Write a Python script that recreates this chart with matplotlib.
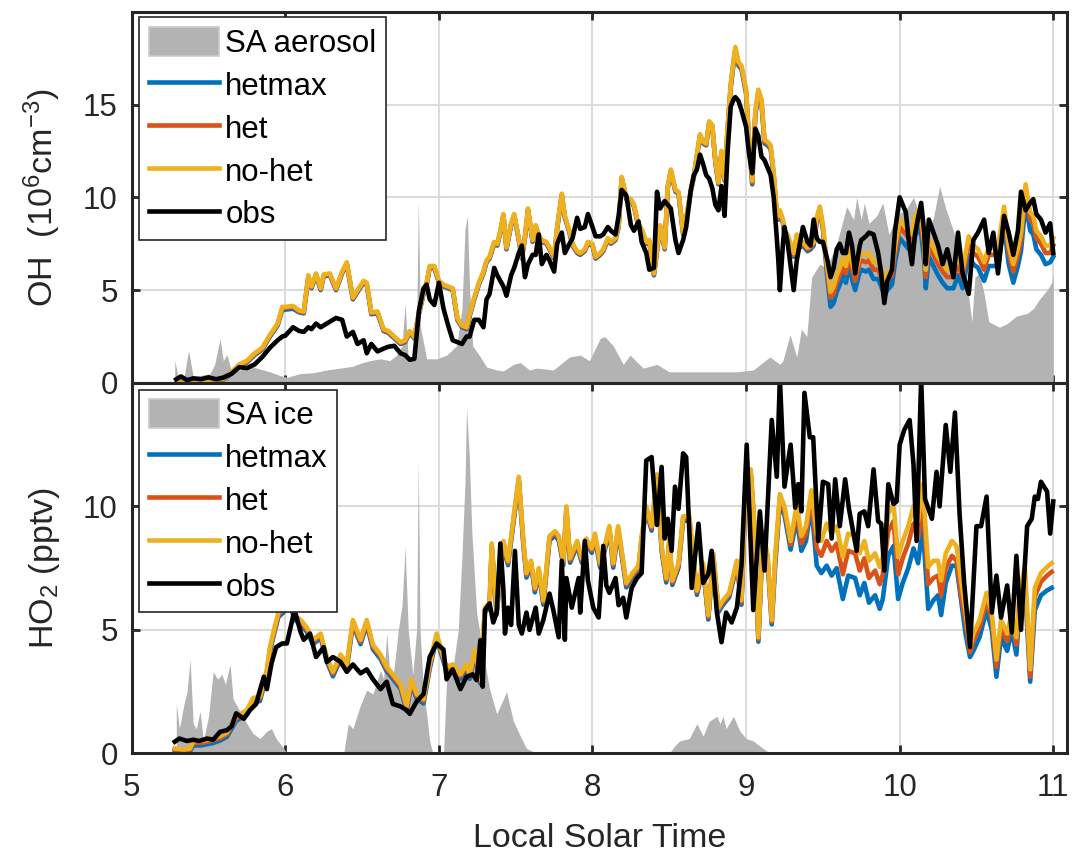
import matplotlib
matplotlib.use('Agg')
import matplotlib.pyplot as plt
from matplotlib.patches import Patch
from matplotlib.lines import Line2D

plt.rcParams['font.family'] = ['Liberation Sans', 'DejaVu Sans']
plt.rcParams['mathtext.default'] = 'regular'

# ---------------- OH panel (top) ----------------
oh_t = [5.29, 5.32, 5.36, 5.40, 5.45, 5.50, 5.55, 5.60, 5.65, 5.70,
        5.75, 5.80, 5.85, 5.90, 5.95, 5.98, 6.00, 6.05, 6.09, 6.12,
        6.15, 6.17, 6.20, 6.23, 6.25, 6.29, 6.33, 6.37, 6.40, 6.44,
        6.47, 6.51, 6.53, 6.56, 6.60, 6.64, 6.67, 6.71, 6.75, 6.78,
        6.81, 6.84, 6.87, 6.90, 6.92, 6.94, 6.97, 7.00, 7.03, 7.06,
        7.09, 7.12, 7.15, 7.18, 7.20, 7.23, 7.26, 7.29, 7.31, 7.33,
        7.36, 7.38, 7.40, 7.42, 7.44, 7.47, 7.49, 7.52, 7.54, 7.56,
        7.58, 7.61, 7.63, 7.65, 7.67, 7.70, 7.72, 7.75, 7.77, 7.80,
        7.82, 7.85, 7.87, 7.90, 7.92, 7.95, 7.97, 8.00, 8.02, 8.05,
        8.07, 8.10, 8.12, 8.15, 8.17, 8.19, 8.22, 8.25, 8.27, 8.30,
        8.32, 8.35, 8.37, 8.40, 8.42, 8.44, 8.47, 8.49, 8.51, 8.54,
        8.56, 8.59, 8.61, 8.64, 8.66, 8.68, 8.70, 8.72, 8.74, 8.76,
        8.78, 8.80, 8.82, 8.84, 8.86, 8.88, 8.90, 8.92, 8.93, 8.95,
        8.97, 9.00, 9.02, 9.04, 9.06, 9.08, 9.10, 9.12, 9.14, 9.16,
        9.18, 9.20, 9.21, 9.22, 9.24, 9.25, 9.27, 9.29, 9.31, 9.33,
        9.35, 9.37, 9.40, 9.42, 9.44, 9.46, 9.48, 9.50, 9.53, 9.55,
        9.57, 9.59, 9.61, 9.63, 9.65, 9.67, 9.69, 9.71, 9.74, 9.75,
        9.78, 9.80, 9.83, 9.86, 9.88, 9.90, 9.92, 9.95, 9.97, 10.00,
        10.02, 10.04, 10.06, 10.08, 10.10, 10.12, 10.14, 10.16, 10.17, 10.19,
        10.22, 10.25, 10.28, 10.31, 10.35, 10.38, 10.41, 10.45, 10.48, 10.51,
        10.55, 10.58, 10.61, 10.64, 10.68, 10.71, 10.74, 10.77, 10.79, 10.82,
        10.85, 10.87, 10.89, 10.92, 10.95, 10.98, 11.00]

oh_nohet = [0.15, 0.2, 0.1, 0.15, 0.15, 0.15, 0.2, 0.25, 0.6, 1.0,
            1.2, 1.6, 1.9, 2.6, 3.2, 4.1, 4.1, 4.15, 3.9, 3.85,
            5.8, 5.2, 5.9, 5.1, 5.85, 5.9, 5.1, 6.0, 6.5, 4.6,
            5.0, 5.5, 5.4, 3.8, 3.85, 2.9, 2.8, 2.5, 2.2, 2.3,
            2.8, 2.5, 3.8, 4.9, 5.4, 6.3, 6.3, 5.5, 5.3, 5.2,
            5.1, 3.5, 3.1, 3.0, 3.7, 4.6, 5.4, 6.0, 6.6, 6.8,
            7.6, 7.5, 8.2, 9.1, 7.3, 8.6, 9.1, 7.8, 6.8, 7.9,
            9.4, 7.7, 8.5, 8.0, 7.7, 7.6, 7.3, 6.8, 8.4, 10.2,
            9.0, 8.2, 7.5, 7.1, 7.0, 7.2, 7.6, 7.5, 6.8, 7.0,
            7.2, 7.8, 7.6, 7.8, 8.5, 11.1, 10.0, 9.9, 9.6, 8.5,
            8.3, 7.6, 7.7, 5.9, 7.2, 8.5, 7.3, 10.6, 11.5, 10.4,
            10.3, 8.1, 8.9, 10.4, 11.2, 12.3, 13.4, 13.0, 12.9, 14.1,
            13.9, 12.0, 10.8, 12.5, 11.0, 13.8, 16.1, 17.5, 18.1, 17.3,
            17.1, 15.8, 13.0, 10.9, 14.6, 15.8, 15.3, 13.1, 13.0, 12.8,
            11.3, 9.2, 9.0, 9.3, 8.8, 8.2, 8.0, 7.5, 7.0, 8.0,
            7.5, 7.6, 7.3, 7.4, 7.6, 8.9, 9.5, 8.5, 6.2, 4.9,
            5.2, 5.8, 6.2, 6.7, 6.3, 7.3, 6.5, 5.9, 6.9, 7.0,
            6.9, 7.0, 6.5, 6.5, 6.1, 5.6, 5.9, 6.2, 7.4, 8.8,
            8.6, 8.4, 8.2, 8.0, 8.9, 9.3, 9.0, 7.6, 6.1, 7.8,
            7.3, 6.8, 6.4, 6.1, 6.1, 6.8, 6.1, 7.9, 7.4, 7.2,
            6.5, 7.3, 7.3, 7.3, 9.5, 7.4, 6.4, 7.3, 8.1, 10.7,
            9.2, 9.0, 8.2, 7.9, 7.4, 7.4, 7.8]

oh_het = [0.12, 0.17, 0.08, 0.12, 0.12, 0.12, 0.17, 0.22, 0.55, 0.95,
          1.15, 1.55, 1.85, 2.55, 3.15, 4.05, 4.05, 4.1, 3.85, 3.8,
          5.75, 5.15, 5.85, 5.05, 5.8, 5.85, 5.05, 5.95, 6.45, 4.55,
          4.95, 5.45, 5.35, 3.75, 3.8, 2.85, 2.75, 2.45, 2.15, 2.25,
          2.75, 2.45, 3.75, 4.85, 5.35, 6.25, 6.25, 5.45, 5.25, 5.15,
          5.05, 3.45, 3.05, 2.95, 3.65, 4.55, 5.35, 5.95, 6.55, 6.75,
          7.55, 7.45, 8.15, 9.05, 7.25, 8.55, 9.05, 7.75, 6.75, 7.85,
          9.35, 7.65, 8.45, 7.95, 7.65, 7.55, 7.25, 6.75, 8.35, 10.15,
          8.95, 8.15, 7.45, 7.05, 6.95, 7.15, 7.55, 7.45, 6.75, 6.95,
          7.15, 7.75, 7.55, 7.75, 8.45, 11.05, 9.95, 9.85, 9.55, 8.45,
          8.25, 7.55, 7.65, 5.85, 7.15, 8.45, 7.25, 10.55, 11.45, 10.35,
          10.25, 8.05, 8.85, 10.35, 11.15, 12.25, 13.35, 12.95, 12.85, 14.05,
          13.85, 11.95, 10.75, 12.45, 10.95, 13.75, 16.0, 17.4, 17.95, 17.2,
          17.0, 15.7, 12.9, 10.8, 14.5, 15.7, 15.2, 13.0, 12.9, 12.7,
          11.2, 9.1, 8.9, 9.2, 8.7, 8.1, 7.9, 7.4, 6.9, 7.9,
          7.4, 7.5, 7.2, 7.3, 7.5, 8.8, 9.4, 8.4, 5.9, 4.6,
          4.8, 5.4, 5.8, 6.3, 5.9, 6.9, 6.1, 5.5, 6.5, 6.6,
          6.5, 6.6, 6.1, 6.1, 5.7, 5.2, 5.5, 5.8, 7.0, 8.4,
          8.2, 8.0, 7.8, 7.6, 8.5, 8.9, 8.6, 7.2, 5.7, 7.4,
          6.9, 6.4, 6.0, 5.7, 5.7, 6.4, 5.7, 7.5, 7.0, 6.8,
          6.1, 6.9, 6.9, 6.9, 9.1, 7.0, 6.0, 6.9, 7.7, 10.3,
          8.8, 8.6, 7.8, 7.5, 7.0, 7.0, 7.4]

oh_hetmax = [0.1, 0.15, 0.05, 0.1, 0.1, 0.1, 0.15, 0.2, 0.5, 0.9,
             1.1, 1.5, 1.8, 2.5, 3.1, 3.95, 3.95, 4.0, 3.8, 3.75,
             5.7, 5.1, 5.8, 5.0, 5.75, 5.8, 5.0, 5.9, 6.4, 4.5,
             4.9, 5.4, 5.3, 3.7, 3.75, 2.8, 2.7, 2.4, 2.1, 2.2,
             2.7, 2.4, 3.7, 4.8, 5.3, 6.2, 6.2, 5.4, 5.2, 5.1,
             5.0, 3.4, 3.0, 2.9, 3.6, 4.5, 5.3, 5.9, 6.5, 6.7,
             7.5, 7.4, 8.1, 9.0, 7.2, 8.5, 9.0, 7.7, 6.7, 7.8,
             9.3, 7.6, 8.4, 7.9, 7.6, 7.5, 7.2, 6.7, 8.3, 10.1,
             8.9, 8.1, 7.4, 7.0, 6.9, 7.1, 7.5, 7.4, 6.7, 6.9,
             7.1, 7.7, 7.5, 7.7, 8.4, 11.0, 9.9, 9.8, 9.5, 8.4,
             8.2, 7.5, 7.6, 5.8, 7.1, 8.4, 7.2, 10.5, 11.4, 10.3,
             10.2, 8.0, 8.8, 10.3, 11.1, 12.2, 13.3, 12.9, 12.8, 14.0,
             13.8, 11.9, 10.7, 12.4, 10.9, 13.7, 15.9, 17.3, 17.9, 17.1,
             16.9, 15.6, 12.8, 10.7, 14.4, 15.6, 15.1, 12.9, 12.8, 12.6,
             11.1, 9.0, 8.8, 9.1, 8.6, 8.0, 7.8, 7.3, 6.8, 7.8,
             7.3, 7.4, 7.1, 7.2, 7.4, 8.7, 9.3, 8.3, 5.6, 4.1,
             4.3, 4.9, 5.3, 5.8, 5.4, 6.4, 5.6, 5.0, 6.0, 6.1,
             6.0, 6.1, 5.6, 5.6, 5.2, 4.7, 5.0, 5.3, 6.5, 7.8,
             7.6, 7.4, 7.2, 7.0, 7.9, 8.3, 8.0, 6.6, 5.1, 6.8,
             6.3, 5.8, 5.4, 5.1, 5.1, 5.8, 5.1, 6.9, 6.4, 6.2,
             5.5, 6.3, 6.3, 6.3, 8.5, 6.4, 5.4, 6.3, 7.1, 9.7,
             8.2, 8.0, 7.2, 6.9, 6.4, 6.5, 6.8]

oh_obs = [0.2, 0.35, 0.15, 0.25, 0.2, 0.3, 0.2, 0.3, 0.5, 0.85,
          0.8, 1.0, 1.4, 1.9, 2.3, 2.5, 2.55, 3.0, 2.8, 2.75,
          3.0, 2.9, 3.2, 3.0, 3.1, 3.3, 3.5, 3.4, 2.5, 2.75,
          2.1, 2.3, 1.6, 2.1, 1.7, 1.85, 1.95, 2.0, 1.6, 1.5,
          1.25, 1.3, 3.9, 5.1, 5.3, 4.5, 4.2, 5.4, 4.0, 3.1,
          2.3, 2.2, 2.1, 2.5, 2.5, 3.4, 3.4, 3.0, 4.5, 4.8,
          6.2, 5.8, 5.5, 5.2, 4.7, 5.8, 6.2, 7.0, 7.4, 5.7,
          6.4, 6.9, 6.9, 8.0, 6.4, 6.9, 6.6, 6.0, 7.5, 8.1,
          7.0, 7.5, 7.8, 8.9, 8.3, 8.4, 9.1, 8.4, 7.9, 7.9,
          8.0, 8.4, 8.2, 8.0, 9.0, 10.4, 10.1, 8.5, 8.2, 8.7,
          7.6, 7.0, 6.1, 6.2, 10.3, 9.4, 9.8, 9.6, 9.4, 7.7,
          7.0, 7.7, 8.4, 10.4, 11.2, 11.5, 12.3, 11.8, 11.2, 11.0,
          10.5, 9.6, 9.3, 10.6, 9.0, 12.5, 14.9, 15.3, 15.4, 15.2,
          14.7, 13.8, 12.3, 11.3, 13.7, 13.3, 12.2, 12.0, 11.6, 11.2,
          10.0, 7.8, 6.6, 5.0, 7.5, 8.4, 7.6, 6.3, 5.0, 6.6,
          7.5, 8.4, 7.6, 7.4, 8.8, 7.8, 7.6, 7.6, 6.6, 5.7,
          6.2, 7.2, 7.5, 7.0, 7.0, 8.1, 7.4, 5.9, 7.4, 7.7,
          7.9, 8.1, 8.0, 7.0, 5.9, 4.3, 5.5, 6.1, 8.2, 10.0,
          9.6, 9.2, 7.6, 6.4, 8.0, 8.9, 9.7, 8.1, 6.4, 8.8,
          8.1, 7.4, 6.4, 7.2, 5.7, 8.1, 5.9, 4.8, 7.7, 8.1,
          8.8, 7.0, 8.1, 5.9, 9.0, 8.1, 6.9, 8.2, 10.3, 9.3,
          9.7, 9.9, 9.1, 8.8, 8.1, 8.6, 7.0]

sa_aer_t = [5.28, 5.30, 5.34, 5.37, 5.40, 5.445, 5.51, 5.54, 5.575, 5.596,
            5.62, 5.65, 5.705, 5.77, 5.835, 5.90, 5.966, 6.01, 6.096, 6.18,
            6.27, 6.356, 6.44, 6.486, 6.55, 6.62, 6.68, 6.725, 6.76, 6.78,
            6.80, 6.83, 6.855, 6.866, 6.88, 6.92, 6.985, 7.05, 7.115, 7.15,
            7.17, 7.185, 7.20, 7.22, 7.27, 7.31, 7.376, 7.42, 7.485, 7.53,
            7.59, 7.637, 7.745, 7.85, 7.92, 7.98, 8.05, 8.08, 8.135, 8.20,
            8.245, 8.33, 8.42, 8.50, 8.72, 8.94, 9.047, 9.155, 9.22, 9.24,
            9.286, 9.33, 9.36, 9.395, 9.427, 9.48, 9.525, 9.59, 9.655, 9.70,
            9.72, 9.75, 9.77, 9.80, 9.85, 9.89, 9.93, 9.98, 10.045, 10.09,
            10.13, 10.176, 10.22, 10.26, 10.30, 10.35, 10.39, 10.43, 10.47, 10.49,
            10.52, 10.55, 10.58, 10.65, 10.70, 10.76, 10.83, 10.87, 10.91, 10.96,
            10.99, 11.0]
sa_aer = [1.22, 0.4, 0.3, 1.76, 0.35, 0.4, 0.5, 1.0, 2.39, 1.2,
          1.53, 0.6, 0.7, 0.9, 0.75, 0.6, 0.4, 0.3, 0.5, 0.55,
          0.7, 0.8, 0.9, 1.05, 1.2, 1.3, 1.2, 1.5, 2.0, 4.3,
          1.3, 1.4, 3.0, 9.8, 3.0, 1.3, 1.3, 1.5, 2.0, 4.0,
          8.3, 9.0, 5.0, 2.0, 1.4, 0.86, 0.7, 0.65, 1.0, 1.1,
          0.7, 0.8, 0.7, 1.4, 1.5, 1.2, 2.4, 2.5, 2.0, 1.0,
          1.5, 0.8, 1.0, 0.6, 0.6, 0.6, 0.7, 1.4, 1.0, 1.2,
          2.6, 1.4, 2.9, 2.5, 5.7, 6.4, 6.2, 7.5, 9.5, 8.8,
          10.0, 8.8, 9.7, 8.6, 9.0, 9.7, 8.0, 9.0, 9.4, 10.0,
          9.0, 8.0, 8.9, 10.6, 9.4, 8.2, 6.8, 5.9, 3.3, 5.7,
          5.9, 4.8, 3.3, 3.0, 3.2, 3.6, 3.75, 4.0, 4.5, 5.0,
          5.4, 5.8]

# ---------------- HO2 panel (bottom) ----------------
ho2_t = [5.28, 5.34, 5.38, 5.40, 5.45, 5.49, 5.53, 5.575, 5.62, 5.68,
         5.75, 5.79, 5.835, 5.88, 5.90, 5.93, 5.955, 5.99, 6.03, 6.06,
         6.10, 6.14, 6.18, 6.23, 6.27, 6.31, 6.36, 6.40, 6.44, 6.49,
         6.53, 6.57, 6.62, 6.66, 6.70, 6.75, 6.79, 6.82, 6.855, 6.90,
         6.94, 6.985, 7.01, 7.05, 7.09, 7.14, 7.18, 7.20, 7.235, 7.27,
         7.30, 7.33, 7.344, 7.376, 7.42, 7.45, 7.485, 7.52, 7.55, 7.57,
         7.60, 7.625, 7.65, 7.68, 7.72, 7.756, 7.78, 7.81, 7.83, 7.854,
         7.90, 7.93, 7.96, 7.995, 8.016, 8.05, 8.08, 8.11, 8.135, 8.167,
         8.22, 8.26, 8.30, 8.32, 8.35, 8.385, 8.42, 8.45, 8.48, 8.50,
         8.52, 8.56, 8.59, 8.63, 8.68, 8.72, 8.754, 8.786, 8.82, 8.85,
         8.89, 8.94, 8.97, 9.00, 9.03, 9.05, 9.08, 9.11, 9.14, 9.167,
         9.19, 9.22, 9.25, 9.29, 9.33, 9.36, 9.39, 9.425, 9.46, 9.49,
         9.525, 9.557, 9.59, 9.63, 9.665, 9.71, 9.74, 9.77, 9.80, 9.84,
         9.87, 9.89, 9.926, 9.96, 9.99, 10.02, 10.056, 10.09, 10.12, 10.15,
         10.186, 10.22, 10.25, 10.27, 10.30, 10.34, 10.37, 10.40, 10.43, 10.458,
         10.48, 10.52, 10.566, 10.60, 10.63, 10.66, 10.70, 10.73, 10.76, 10.78,
         10.815, 10.85, 10.88, 10.92, 10.96, 10.99]

ho2_nohet = [0.2, 0.15, 0.2, 0.5, 0.5, 0.55, 0.6, 0.7, 0.85, 1.5,
             1.75, 2.24, 2.3, 3.4, 4.3, 5.1, 5.7, 5.9, 6.2, 5.6,
             5.4, 5.1, 4.6, 4.85, 3.9, 3.3, 4.0, 3.6, 5.4, 4.6,
             5.4, 4.4, 4.0, 3.5, 3.2, 2.8, 1.9, 3.0, 2.4, 2.2,
             3.6, 4.85, 4.3, 3.5, 3.6, 3.2, 3.6, 3.2, 4.2, 3.0,
             5.9, 6.1, 8.5, 5.8, 8.6, 7.8, 9.5, 11.2, 8.6, 7.3,
             7.8, 6.7, 7.5, 6.2, 8.8, 9.0, 8.8, 7.8, 10.0, 7.9,
             8.6, 7.9, 8.7, 8.3, 8.9, 7.7, 8.4, 9.2, 7.7, 9.2,
             6.9, 7.3, 7.6, 8.8, 10.0, 9.2, 11.3, 8.4, 7.1, 8.7,
             7.0, 7.7, 9.6, 9.6, 6.6, 7.7, 5.6, 8.1, 5.9, 6.2,
             6.5, 7.8, 6.2, 11.4, 11.5, 9.7, 4.7, 9.0, 8.0, 5.4,
             8.0, 10.5, 10.0, 8.6, 10.1, 8.8, 9.2, 10.65, 8.9, 8.6,
             9.3, 8.9, 9.2, 7.95, 8.9, 8.8, 8.1, 8.6, 7.8, 8.1,
             7.55, 7.95, 9.7, 10.1, 7.95, 8.6, 9.2, 10.0, 9.4, 10.9,
             7.55, 7.8, 7.8, 7.0, 8.1, 8.6, 8.4, 7.0, 5.7, 4.3,
             4.85, 5.4, 6.5, 5.7, 3.8, 5.4, 4.85, 5.7, 4.7, 6.5,
             7.55, 3.4, 6.7, 7.3, 7.55, 7.7]

ho2_het = [0.15, 0.1, 0.15, 0.42, 0.42, 0.47, 0.52, 0.62, 0.77, 1.42,
           1.67, 2.16, 2.22, 3.32, 4.22, 5.02, 5.62, 5.82, 6.12, 5.52,
           5.32, 5.02, 4.52, 4.77, 3.82, 3.22, 3.92, 3.52, 5.32, 4.52,
           5.32, 4.32, 3.92, 3.42, 3.12, 2.72, 1.82, 2.92, 2.32, 2.12,
           3.52, 4.77, 4.22, 3.42, 3.52, 3.12, 3.52, 3.12, 4.12, 2.92,
           5.82, 6.02, 8.42, 5.72, 8.52, 7.72, 9.42, 11.12, 8.52, 7.22,
           7.72, 6.62, 7.42, 6.12, 8.72, 8.92, 8.72, 7.72, 9.92, 7.82,
           8.52, 7.82, 8.62, 8.22, 8.82, 7.62, 8.32, 9.12, 7.62, 9.12,
           6.82, 7.22, 7.52, 8.72, 9.92, 9.12, 11.22, 8.32, 7.02, 8.62,
           6.92, 7.62, 9.52, 9.52, 6.52, 7.62, 5.52, 8.02, 5.82, 6.12,
           6.42, 7.72, 6.12, 11.32, 11.42, 9.62, 4.62, 8.92, 7.92, 5.32,
           7.85, 10.35, 9.85, 8.45, 9.8, 8.5, 8.9, 10.35, 8.3, 8.0,
           8.6, 8.2, 8.5, 7.25, 8.2, 8.1, 7.4, 7.9, 7.1, 7.4,
           6.85, 7.25, 9.0, 9.4, 7.25, 7.9, 8.5, 9.3, 8.7, 10.2,
           6.85, 7.1, 7.2, 6.4, 7.5, 8.0, 7.8, 6.4, 5.3, 4.1,
           4.55, 5.1, 6.2, 5.4, 3.5, 5.1, 4.55, 5.4, 4.4, 6.2,
           7.25, 3.1, 6.35, 6.95, 7.2, 7.35]

ho2_hetmax = [0.1, 0.05, 0.1, 0.32, 0.32, 0.37, 0.42, 0.52, 0.67, 1.32,
              1.57, 2.06, 2.12, 3.22, 4.12, 4.92, 5.52, 5.72, 6.02, 5.42,
              5.22, 4.92, 4.42, 4.67, 3.72, 3.12, 3.82, 3.42, 5.22, 4.42,
              5.22, 4.22, 3.82, 3.32, 3.02, 2.62, 1.72, 2.82, 2.22, 2.02,
              3.42, 4.67, 4.12, 3.32, 3.42, 3.02, 3.42, 3.02, 4.02, 2.82,
              5.72, 5.92, 8.32, 5.62, 8.42, 7.62, 9.32, 11.02, 8.42, 7.12,
              7.62, 6.52, 7.32, 6.02, 8.62, 8.82, 8.62, 7.62, 9.82, 7.72,
              8.42, 7.72, 8.52, 8.12, 8.72, 7.52, 8.22, 9.02, 7.52, 9.02,
              6.72, 7.12, 7.42, 8.62, 9.82, 9.02, 11.12, 8.22, 6.92, 8.52,
              6.82, 7.52, 9.42, 9.42, 6.42, 7.52, 5.42, 7.92, 5.72, 6.02,
              6.32, 7.62, 6.02, 11.22, 11.32, 9.52, 4.52, 8.82, 7.82, 5.22,
              7.65, 10.15, 9.65, 8.25, 9.5, 8.2, 8.6, 10.05, 7.6, 7.3,
              7.6, 7.2, 7.5, 6.25, 7.2, 7.1, 6.4, 6.9, 6.1, 6.4,
              5.85, 6.25, 8.0, 8.4, 6.25, 6.9, 7.5, 8.3, 7.7, 9.2,
              5.85, 6.2, 6.4, 5.6, 6.9, 7.6, 7.6, 6.2, 4.8, 3.9,
              4.15, 4.7, 5.8, 5.0, 3.1, 4.7, 4.15, 5.0, 4.0, 5.8,
              6.85, 2.9, 5.8, 6.4, 6.6, 6.7]

ho2_obs_t = [5.28, 5.31, 5.36, 5.40, 5.44, 5.49, 5.53, 5.575, 5.62, 5.65,
             5.68, 5.73, 5.77, 5.81, 5.835, 5.86, 5.88, 5.91, 5.94, 5.98,
             6.01, 6.04, 6.06, 6.10, 6.12, 6.16, 6.20, 6.25, 6.27, 6.31,
             6.36, 6.40, 6.44, 6.49, 6.53, 6.57, 6.62, 6.66, 6.70, 6.75,
             6.79, 6.81, 6.855, 6.90, 6.94, 6.985, 7.03, 7.05, 7.09, 7.14,
             7.18, 7.22, 7.246, 7.27, 7.285, 7.30, 7.33, 7.354, 7.376, 7.40,
             7.42, 7.43, 7.45, 7.47, 7.495, 7.52, 7.54, 7.57, 7.59, 7.63,
             7.65, 7.68, 7.72, 7.745, 7.78, 7.80, 7.82, 7.83, 7.865, 7.91,
             7.92, 7.95, 7.97, 8.005, 8.04, 8.07, 8.09, 8.11, 8.15, 8.17,
             8.20, 8.22, 8.255, 8.29, 8.32, 8.35, 8.385, 8.42, 8.45, 8.47,
             8.49, 8.515, 8.537, 8.56, 8.59, 8.61, 8.646, 8.69, 8.72, 8.754,
             8.776, 8.81, 8.84, 8.87, 8.906, 8.94, 8.97, 9.004, 9.047, 9.09,
             9.12, 9.167, 9.20, 9.22, 9.25, 9.29, 9.32, 9.34, 9.36, 9.38,
             9.415, 9.437, 9.47, 9.50, 9.535, 9.557, 9.58, 9.61, 9.645, 9.67,
             9.72, 9.74, 9.77, 9.795, 9.83, 9.86, 9.88, 9.90, 9.926, 9.96,
             9.98, 10.00, 10.03, 10.065, 10.09, 10.11, 10.14, 10.165, 10.21, 10.24,
             10.26, 10.30, 10.33, 10.36, 10.39, 10.42, 10.458, 10.50, 10.53, 10.566,
             10.60, 10.63, 10.66, 10.70, 10.73, 10.76, 10.79, 10.83, 10.86, 10.88,
             10.90, 10.92, 10.96, 10.98, 11.00]
ho2_obs = [0.47, 0.6, 0.5, 0.55, 0.5, 0.6, 0.55, 0.87, 0.94, 1.1,
           1.62, 1.4, 1.75, 2.0, 2.56, 3.1, 2.6, 3.64, 4.3, 4.45,
           4.45, 5.26, 5.8, 4.9, 4.6, 4.85, 3.9, 4.3, 3.7, 3.9,
           3.7, 3.3, 3.6, 3.24, 3.4, 3.0, 2.6, 2.9, 2.0, 1.9,
           1.75, 1.6, 2.1, 2.4, 3.9, 4.45, 4.2, 3.0, 3.4, 2.6,
           3.1, 3.2, 2.96, 4.58, 2.7, 5.8, 6.07, 5.3, 5.7, 8.5,
           6.6, 4.85, 5.9, 5.2, 8.2, 5.2, 4.85, 5.7, 5.0, 5.9,
           4.85, 5.4, 6.47, 5.8, 4.7, 7.8, 4.6, 7.1, 5.9, 7.1,
           5.7, 8.6, 7.0, 5.9, 5.5, 8.4, 6.8, 6.5, 7.1, 6.0,
           6.3, 5.5, 6.7, 7.1, 7.3, 11.86, 12.0, 9.25, 11.6, 8.7,
           9.5, 8.2, 10.8, 9.9, 12.15, 12.0, 6.7, 9.3, 6.9, 7.26,
           8.2, 5.7, 4.5, 5.7, 5.3, 5.9, 7.6, 12.5, 5.8, 9.8,
           7.4, 13.5, 11.2, 15.2, 10.8, 12.5, 9.95, 10.9, 9.8, 14.6,
           12.8, 12.8, 8.6, 11.0, 10.9, 8.7, 11.1, 9.2, 11.1, 9.9,
           8.2, 9.7, 9.8, 9.2, 11.5, 9.4, 9.3, 7.4, 10.9, 10.1,
           10.2, 12.5, 13.1, 13.5, 11.7, 8.6, 15.2, 10.3, 9.5, 11.4,
           10.0, 13.3, 11.4, 13.8, 9.7, 6.9, 4.3, 9.2, 9.2, 10.4,
           5.7, 7.2, 5.5, 6.8, 4.9, 8.0, 5.0, 9.2, 9.5, 10.4,
           10.3, 11.0, 10.6, 8.9, 10.2]

sa_ice_t = [5.29, 5.31, 5.34, 5.36, 5.38, 5.40, 5.42, 5.445, 5.466, 5.50,
            5.53, 5.56, 5.586, 5.61, 5.64, 5.66, 5.705, 5.75, 5.79, 5.835,
            5.88, 5.91, 5.94, 5.99, 6.01, 6.38, 6.41, 6.44, 6.486, 6.53,
            6.57, 6.62, 6.64, 6.66, 6.68, 6.70, 6.736, 6.76, 6.78, 6.80,
            6.83, 6.855, 6.866, 6.877, 6.90, 6.92, 6.94, 6.96, 7.03, 7.05,
            7.09, 7.126, 7.15, 7.17, 7.18, 7.198, 7.214, 7.246, 7.29, 7.33,
            7.376, 7.42, 7.44, 7.485, 7.53, 7.57, 7.637, 8.50, 8.535, 8.567,
            8.63, 8.68, 8.72, 8.76, 8.81, 8.83, 8.85, 8.87, 8.917, 8.96,
            9.00, 9.047, 9.11, 9.155, 11.0]
sa_ice = [2.0, 1.0, 2.0, 2.5, 3.8, 1.2, 1.0, 1.7, 0.5, 1.5,
          3.3, 3.0, 3.2, 2.8, 3.6, 2.2, 1.7, 1.2, 0.8, 0.6,
          0.9, 1.0, 0.6, 0.2, 0.0, 0.0, 1.2, 1.0, 1.9, 2.56,
          2.4, 3.37, 3.0, 4.86, 3.3, 3.0, 5.0, 6.0, 8.36, 5.0,
          3.2, 5.0, 11.86, 5.0, 2.5, 1.6, 0.5, 0.0, 0.0, 3.0,
          3.4, 5.0, 8.0, 11.0, 14.0, 12.0, 9.0, 5.66, 4.0, 2.6,
          1.6, 2.2, 2.5, 1.3, 0.7, 0.2, 0.0, 0.0, 0.3, 0.5,
          0.6, 1.2, 0.7, 1.3, 1.5, 1.2, 1.5, 1.0, 1.5, 0.9,
          0.6, 0.5, 0.2, 0.0, 0.0]

c_hetmax = '#0072BD'
c_het = '#D95319'
c_nohet = '#EDB120'
c_fill = '#b3b3b3'
fs = 22.5
lw = 3.3

fig = plt.figure(figsize=(10.72, 8.55), dpi=100)
ax1 = fig.add_axes([0.1229, 0.5521, 0.8725, 0.4342])
ax2 = fig.add_axes([0.1229, 0.1189, 0.8725, 0.4332])


def style(ax):
    ax.set_xlim(5, 11.09)
    ax.set_xticks([5, 6, 7, 8, 9, 10, 11])
    ax.grid(True, color='#dcdcdc', lw=1.5)
    ax.set_axisbelow(True)
    ax.tick_params(direction='in', length=6, width=2.0, top=True, right=True,
                   labelsize=fs, colors='#262626')
    ax.tick_params(axis='y', pad=10)
    ax.tick_params(axis='x', pad=14)
    for s in ax.spines.values():
        s.set_linewidth(2.2)
        s.set_color('#262626')


def legend(ax, first, y):
    handles = [Patch(facecolor=c_fill, edgecolor='#cccccc', lw=1.2),
               Line2D([], [], color=c_hetmax, lw=lw),
               Line2D([], [], color=c_het, lw=lw),
               Line2D([], [], color=c_nohet, lw=lw),
               Line2D([], [], color='black', lw=lw)]
    lab = [first, 'hetmax', 'het', 'no-het', 'obs']
    lg = ax.legend(handles, lab, loc='upper left', bbox_to_anchor=(0.0081, y),
                   borderaxespad=0, fontsize=fs, frameon=True, fancybox=False,
                   framealpha=1, edgecolor='#262626', handlelength=2.25,
                   handleheight=1.06, handletextpad=0.2, labelspacing=0.34,
                   borderpad=0.3)
    lg.get_frame().set_linewidth(1.2)
    lg.set_zorder(10)


# top panel
style(ax1)
ax1.fill_between(sa_aer_t, 0, sa_aer, color=c_fill, lw=0)
ax1.plot(oh_t, oh_hetmax, color=c_hetmax, lw=lw)
ax1.plot(oh_t, oh_het, color=c_het, lw=lw)
ax1.plot(oh_t, oh_nohet, color=c_nohet, lw=lw)
ax1.plot(oh_t, oh_obs, color='black', lw=lw)
ax1.set_ylim(0, 20)
ax1.set_yticks([0, 5, 10, 15])
ax1.tick_params(labelbottom=False)
ax1.set_ylabel('OH  (10$^6$cm$^{-3}$)', fontsize=24.5, color='#262626', va='baseline')
ax1.yaxis.set_label_coords(-0.0841, 0.5)
legend(ax1, 'SA aerosol', 0.985)

# bottom panel
style(ax2)
ax2.fill_between(sa_ice_t, 0, sa_ice, color=c_fill, lw=0)
ax2.plot(ho2_t, ho2_hetmax, color=c_hetmax, lw=lw)
ax2.plot(ho2_t, ho2_het, color=c_het, lw=lw)
ax2.plot(ho2_t, ho2_nohet, color=c_nohet, lw=lw)
ax2.plot(ho2_obs_t, ho2_obs, color='black', lw=lw)
ax2.set_ylim(0, 15)
ax2.set_yticks([0, 5, 10])
ax2.set_ylabel('HO$_2$ (pptv)', fontsize=24.5, color='#262626', va='baseline')
ax2.yaxis.set_label_coords(-0.0841, 0.5)
ax2.set_xlabel('Local Solar Time', fontsize=24.5, color='#262626', va='baseline')
ax2.xaxis.set_label_coords(0.5, -0.254)
legend(ax2, 'SA ice', 0.982)

fig.savefig('out.png', dpi=100)
